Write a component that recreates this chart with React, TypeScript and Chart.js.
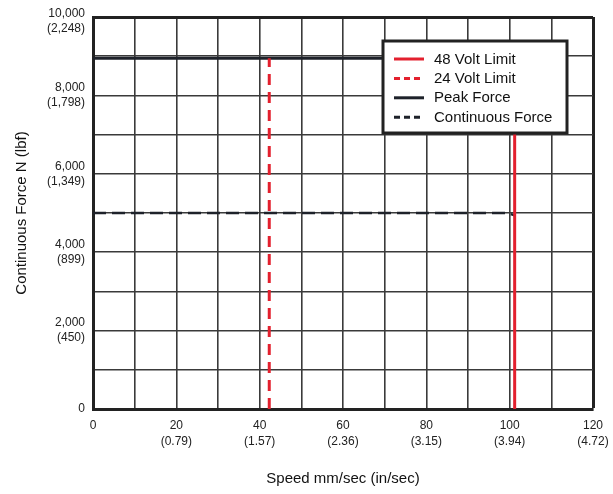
import React, { useEffect, useRef } from "react";
import { Chart, registerables } from "chart.js";

Chart.register(...registerables);

// ---- data ----
const seriesLabels = ["48 Volt Limit", "24 Volt Limit", "Peak Force", "Continuous Force"];
const limit48Speed = [101.2, 101.2];
const limit48Force = [0, 8950];
const limit24Speed = [42.3, 42.3];
const limit24Force = [0, 8950];
const peakSpeed = [0, 101.2];
const peakForce = [8950, 8950];
const contSpeed = [0, 99.5, 101.2];
const contForce = [5000, 5000, 4940];

const xTickValues = [0, 20, 40, 60, 80, 100, 120];
const xTickInches = ["", "(0.79)", "(1.57)", "(2.36)", "(3.15)", "(3.94)", "(4.72)"];
const yTickValues = [0, 2000, 4000, 6000, 8000, 10000];
const yTickLbf = ["", "(450)", "(899)", "(1,349)", "(1,798)", "(2,248)"];

const FONT = "'Liberation Sans', Arial, sans-serif";
const RED = "#e3202e";
const BLACK = "#1e222a";
const GRID = "#3a3a3a";

const toPts = (xs: number[], ys: number[]) => xs.map((x, i) => ({ x, y: ys[i] }));

const fmtN = (v: number) => v.toLocaleString("en-US");

const insideLegend = {
  id: "insideLegend",
  afterDatasetsDraw(chart: any) {
    const { ctx, chartArea } = chart;
    const left = chartArea.right - 210;
    const top = chartArea.top + 24;
    const w = 184;
    const h = 92;
    ctx.save();
    ctx.fillStyle = "#ffffff";
    ctx.fillRect(left, top, w, h);
    ctx.lineWidth = 3;
    ctx.strokeStyle = "#222";
    ctx.strokeRect(left, top, w, h);
    ctx.font = `15px ${FONT}`;
    ctx.textBaseline = "middle";
    ctx.textAlign = "left";
    chart.data.datasets.forEach((ds: any, i: number) => {
      const y = top + 18 + i * 19.4;
      ctx.beginPath();
      ctx.lineWidth = 3;
      ctx.strokeStyle = ds.borderColor;
      ctx.setLineDash(ds.borderDash && ds.borderDash.length ? [6, 4] : []);
      ctx.moveTo(left + 11, y);
      ctx.lineTo(left + 41, y);
      ctx.stroke();
      ctx.setLineDash([]);
      ctx.fillStyle = "#111";
      ctx.fillText(ds.label, left + 51, y + 0.5);
    });
    ctx.restore();
  },
};

// nudge the top y label downward so it sits inside the canvas like the reference
const topLabelNudge = {
  id: "topLabelNudge",
  beforeDraw(chart: any) {
    const sc = chart.scales.y;
    if (!sc || !sc.getLabelItems) return;
    const items = sc.getLabelItems();
    items.forEach((it: any) => {
      const lbl = Array.isArray(it.label) ? it.label[0] : it.label;
      if (lbl === fmtN(yTickValues[yTickValues.length - 1]) && !it._nudged) {
        it.options.translation[1] += 4;
        it._nudged = true;
      }
    });
  },
};

export default function App() {
  const ref = useRef<HTMLCanvasElement | null>(null);
  useEffect(() => {
    if (!ref.current) return;
    const chart = new Chart(ref.current, {
      type: "line",
      data: {
        datasets: [
          {
            label: seriesLabels[0],
            data: toPts(limit48Speed, limit48Force),
            borderColor: RED,
            borderWidth: 3,
            pointRadius: 0,
          },
          {
            label: seriesLabels[1],
            data: toPts(limit24Speed, limit24Force),
            borderColor: RED,
            borderWidth: 3,
            borderDash: [11, 7],
            pointRadius: 0,
          },
          {
            label: seriesLabels[2],
            data: toPts(peakSpeed, peakForce),
            borderColor: BLACK,
            borderWidth: 3,
            pointRadius: 0,
          },
          {
            label: seriesLabels[3],
            data: toPts(contSpeed, contForce),
            borderColor: BLACK,
            borderWidth: 2.5,
            borderDash: [13, 6],
            pointRadius: 0,
          },
        ],
      },
      options: {
        animation: false,
        responsive: false,
        devicePixelRatio: 1,
        layout: { padding: { left: 0, top: 17, right: 20, bottom: 0 } },
        plugins: {
          legend: { display: false },
          tooltip: { enabled: false },
        },
        scales: {
          x: {
            type: "linear",
            min: 0,
            max: 120,
            afterFit: (s: any) => {
              s.height = 85;
              s.paddingLeft = 0;
              s.paddingRight = 0;
            },
            ticks: {
              stepSize: 10,
              autoSkip: false,
              maxRotation: 0,
              padding: 9,
              color: "#222",
              font: { family: FONT, size: 12, lineHeight: 1.33 },
              callback: (v: any) => {
                const i = xTickValues.indexOf(Number(v));
                if (i < 0) return "";
                return xTickInches[i] ? [String(v), xTickInches[i]] : String(v);
              },
            },
            grid: {
              drawTicks: false,
              color: (c: any) => (c.tick && c.tick.value === 120 ? "#222" : GRID),
              lineWidth: (c: any) => (c.tick && c.tick.value === 120 ? 3 : 1.6),
            },
            border: { display: true, color: "#222", width: 3 },
            title: {
              display: true,
              text: "Speed mm/sec (in/sec)",
              color: "#111",
              font: { family: FONT, size: 15, lineHeight: 1.2 },
              padding: { top: 0, bottom: 6 },
            },
          },
          y: {
            min: 0,
            max: 10000,
            afterFit: (s: any) => {
              s.width = 93;
              s.paddingTop = 0;
              s.paddingBottom = 0;
            },
            ticks: {
              stepSize: 1000,
              autoSkip: false,
              padding: 8,
              color: "#222",
              font: { family: FONT, size: 12, lineHeight: 1.25 },
              callback: (v: any) => {
                const i = yTickValues.indexOf(Number(v));
                if (i < 0) return "";
                return yTickLbf[i] ? [fmtN(Number(v)), yTickLbf[i]] : fmtN(Number(v));
              },
            },
            grid: {
              drawTicks: false,
              color: (c: any) => (c.tick && c.tick.value === 10000 ? "#222" : GRID),
              lineWidth: (c: any) => (c.tick && c.tick.value === 10000 ? 3 : 1.6),
            },
            border: { display: true, color: "#222", width: 3 },
            title: {
              display: true,
              text: "Continuous Force N (lbf)",
              color: "#111",
              font: { family: FONT, size: 15, lineHeight: 1.2 },
              padding: { top: 13, bottom: 0 },
            },
          },
        },
      },
      plugins: [insideLegend, topLabelNudge],
    } as any);
    return () => chart.destroy();
  }, []);
  return (
    <div style={{ position: "absolute", left: 0, top: 0, width: 613, height: 494, background: "#fff" }}>
      <canvas ref={ref} width={613} height={494} style={{ display: "block" }} />
    </div>
  );
}
